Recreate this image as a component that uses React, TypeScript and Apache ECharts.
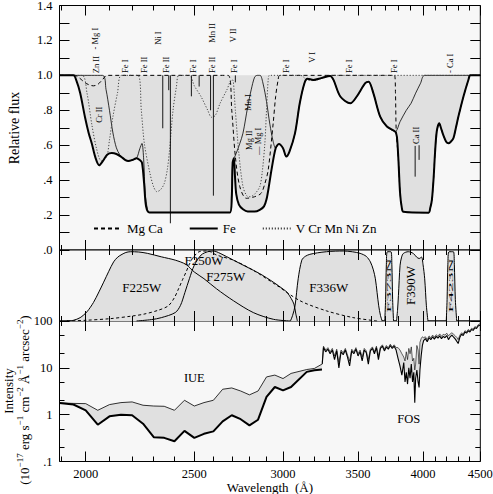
import React, { useEffect, useRef } from "react";
import * as echarts from "echarts";

const SERIF = "'Liberation Serif', 'DejaVu Serif', 'Times New Roman', serif";
const BG = "#f7f7f7";
const FILL = "#e0e0e0";

// ---------- wavelength axis ----------
const WL_MIN = 1895;
const WL_MAX = 4500;
const xMajorTicks = [2000, 2500, 3000, 3500, 4000, 4500];
const xMinorTicks = [1900, 2100, 2200, 2300, 2400, 2600, 2700, 2800, 2900, 3100, 3200, 3300, 3400, 3600, 3700, 3800, 3900, 4100, 4200, 4300, 4400];

// ---------- top panel: relative flux ----------
const continuum = 1.0;
const totalWl = [1895, 1950, 1962, 1977, 1997, 2012, 2025, 2040, 2056, 2072, 2090, 2110, 2130, 2150, 2170, 2183, 2200, 2220, 2235, 2245, 2255, 2264, 2280, 2690, 2700, 2705, 2712, 2718, 2725, 2740, 2763, 2790, 2830, 2860, 2885, 2900, 2915, 2930, 2955, 2975, 3000, 3020, 3040, 3075, 3105, 3135, 3155, 3193, 3245, 3305, 3328, 3375, 3445, 3491, 3552, 3577, 3612, 3663, 3714, 3778, 3791, 3803, 3816, 3830, 3842, 4046, 4060, 4074, 4089, 4100, 4115, 4136, 4150, 4170, 4195, 4215, 4235, 4258, 4280, 4302, 4347, 4393, 4408, 4500];
const totalFlux = [1, 1, 0.97, 0.9, 0.76, 0.67, 0.61, 0.53, 0.485, 0.51, 0.545, 0.555, 0.55, 0.535, 0.515, 0.51, 0.515, 0.525, 0.515, 0.5, 0.38, 0.25, 0.215, 0.215, 0.3, 0.5, 0.525, 0.42, 0.32, 0.26, 0.233, 0.22, 0.22, 0.23, 0.25, 0.29, 0.37, 0.46, 0.583, 0.607, 0.583, 0.535, 0.563, 0.669, 0.84, 0.955, 0.98, 0.974, 0.984, 0.997, 0.974, 0.879, 0.84, 0.879, 0.955, 0.964, 0.898, 0.764, 0.707, 0.678, 0.649, 0.516, 0.325, 0.24, 0.219, 0.214, 0.24, 0.287, 0.42, 0.554, 0.68, 0.726, 0.7, 0.659, 0.62, 0.611, 0.62, 0.64, 0.7, 0.764, 0.879, 0.978, 1, 1];

const feWl = [1895, 2070, 2085, 2100, 2115, 2130, 2145, 2160, 2183, 2200, 2220, 2235, 2245, 2253, 2260, 2271, 2280, 2690, 2700, 2705, 2715, 2725, 2745, 2763, 2790, 2810, 2830, 2845, 2862, 2880, 2900, 2920, 2940, 2955, 2975, 3000, 3020, 3040, 3075, 3105, 3135, 3155, 3193, 3245, 3305, 3328, 3375, 3445, 3491, 3552, 3577, 3612, 3663, 3714, 3778, 3816, 3865, 3903, 3940, 3980, 4013, 4500];
const feFlux = [1, 1, 0.92, 0.8, 0.67, 0.585, 0.545, 0.525, 0.51, 0.515, 0.525, 0.58, 0.61, 0.516, 0.325, 0.23, 0.215, 0.215, 0.3, 0.5, 0.53, 0.554, 0.61, 0.669, 0.82, 0.917, 0.99, 1, 1, 0.95, 0.85, 0.72, 0.62, 0.583, 0.607, 0.583, 0.535, 0.563, 0.669, 0.84, 0.955, 0.98, 0.974, 0.984, 0.997, 0.974, 0.879, 0.84, 0.879, 0.955, 0.964, 0.898, 0.764, 0.707, 0.678, 0.735, 0.8, 0.84, 0.898, 0.955, 1, 1];

const mgCaWl = [1895, 1955, 1975, 1995, 2015, 2032, 2050, 2070, 2089, 2680, 2700, 2720, 2745, 2782, 2830, 2868, 2890, 2910, 2940, 2955, 2970, 2980, 3772, 3780, 3786, 3803, 3816, 3830, 3842, 4046, 4060, 4074, 4089, 4100, 4115, 4136, 4150, 4170, 4195, 4215, 4235, 4258, 4280, 4302, 4347, 4393, 4408, 4500];
const mgCaFlux = [1, 1, 0.984, 0.96, 0.945, 0.94, 0.948, 0.975, 1, 1, 0.8, 0.535, 0.363, 0.296, 0.305, 0.325, 0.38, 0.458, 0.726, 0.88, 0.974, 1, 1, 0.9, 0.68, 0.516, 0.325, 0.24, 0.219, 0.214, 0.24, 0.287, 0.42, 0.554, 0.68, 0.726, 0.7, 0.659, 0.62, 0.611, 0.62, 0.64, 0.7, 0.764, 0.879, 0.978, 1, 1];

const otherWl = [1895, 1985, 2005, 2025, 2045, 2065, 2088, 2100, 2115, 2135, 2152, 2226, 2242, 2256, 2282, 2300, 2315, 2332, 2350, 2365, 2376, 2393, 2410, 2422, 2475, 2500, 2535, 2570, 2590, 2610, 2636, 2673, 2700, 2708, 2720, 2740, 2763, 2785, 2805, 2830, 2860, 2875, 2890, 2900, 2910, 2918, 3110, 3150, 3190, 3240, 3290, 4500];
const otherFlux = [1, 1, 0.9, 0.72, 0.58, 0.51, 0.535, 0.63, 0.764, 0.9, 1, 1, 0.8, 0.61, 0.44, 0.36, 0.334, 0.345, 0.38, 0.46, 0.573, 0.8, 0.936, 1, 1, 0.94, 0.878, 0.8, 0.76, 0.77, 0.84, 0.917, 0.974, 0.97, 0.8, 0.55, 0.363, 0.31, 0.305, 0.32, 0.363, 0.45, 0.61, 0.8, 0.974, 1, 1, 0.975, 0.97, 0.98, 1, 1];

const markerWl = [2343, 2372, 2380, 2485, 2525, 2585, 2600, 2720, 3936, 3968];
const markerTop = [1, 1, 1, 1, 1, 1, 1, 1, 0.596, 0.6];
const markerBottom = [0.697, 0.915, 0.153, 0.88, 0.936, 0.8, 0.311, 0.96, 0.42, 0.516];

const lineIdText = ["Zn II", "- Mg I", "Fe I", "Fe II", "Ni I", "Fe II", "Fe I", "Fe II", "Mn II", "V II", "Fe I", "Fe I", "V I", "Fe I", "Fe I", "- Ca I", "Cr II", "Mn I", "Mg II", "— Mg I", "Ca II"];
const lineIdWl = [2043, 2039, 2169, 2255, 2321, 2359, 2493, 2593, 2593, 2707, 2713, 3020, 3186, 3437, 3770, 4230, 2057, 2790, 2795, 2852, 3943];
const lineIdLevel = [1.012, 1.148, 1.014, 1.014, 1.175, 1.014, 1.014, 1.014, 1.186, 1.19, 1.014, 1.014, 1.072, 1.014, 1.014, 1.014, 0.728, 0.797, 0.573, 0.544, 0.607];

const fluxTickLabels = ["1.4", "1.2", "1.0", ".8", ".6", ".4", ".2", ".0"];

// ---------- middle panel: filter throughputs ----------
const f225Wl = [1924, 1950, 1977, 2005, 2032, 2055, 2075, 2097, 2118, 2136, 2155, 2172, 2192, 2230, 2270, 2336, 2404, 2458, 2500, 2550, 2617, 2709, 2822, 2941, 3046];
const f225T = [0, 0.01, 0.047, 0.13, 0.261, 0.41, 0.547, 0.7, 0.833, 0.9, 0.939, 0.965, 0.976, 0.972, 0.953, 0.904, 0.857, 0.796, 0.69, 0.596, 0.453, 0.286, 0.119, 0.024, 0];
const f250Wl = [1924, 2000, 2103, 2200, 2253, 2320, 2370, 2400, 2420, 2440, 2458, 2475, 2490, 2525, 2570, 2617, 2709, 2822, 2963, 3106, 3280, 3465, 3640];
const f250T = [0, 0.01, 0.033, 0.07, 0.096, 0.15, 0.214, 0.33, 0.452, 0.58, 0.69, 0.8, 0.88, 0.976, 0.986, 0.929, 0.857, 0.714, 0.5, 0.286, 0.143, 0.048, 0];
const f275Wl = [2220, 2290, 2336, 2404, 2430, 2452, 2475, 2500, 2535, 2570, 2600, 2636, 2709, 2784, 2860, 2941, 3000, 3025, 3050, 3068, 3080, 3090];
const f275T = [0, 0.02, 0.047, 0.119, 0.22, 0.4, 0.596, 0.786, 0.929, 0.976, 0.986, 0.953, 0.857, 0.762, 0.667, 0.547, 0.45, 0.404, 0.32, 0.238, 0.1, 0];
const f336Wl = [3046, 3060, 3075, 3095, 3118, 3140, 3170, 3220, 3280, 3340, 3395, 3460, 3515, 3560, 3590, 3612, 3627, 3640, 3652, 3665, 3678];
const f336T = [0, 0.08, 0.214, 0.595, 0.857, 0.91, 0.939, 0.96, 0.976, 0.984, 0.986, 0.975, 0.953, 0.91, 0.833, 0.72, 0.595, 0.4, 0.214, 0.08, 0];
const f373Wl = [3698, 3704, 3710, 3718, 3745, 3752, 3758, 3765];
const f373T = [0, 0.3, 0.8, 0.976, 0.976, 0.8, 0.3, 0];
const f390Wl = [3788, 3796, 3803, 3816, 3828, 3842, 3881, 3921, 3948, 3969, 3988, 4000, 4014, 4028, 4041];
const f390T = [0, 0.15, 0.357, 0.786, 0.9, 0.952, 0.976, 0.952, 0.9, 0.88, 0.9, 0.8, 0.595, 0.214, 0];
const f423Wl = [4196, 4203, 4210, 4220, 4258, 4266, 4275, 4287];
const f423T = [0, 0.3, 0.8, 0.976, 0.976, 0.8, 0.3, 0];

const filterLabelText = ["F225W", "F250W", "F275W", "F336W", "F373N", "F390W", "F423N"];
const filterLabelWl = [2244, 2550, 2667, 3295, 3727, 3902, 4238];
const filterLabelLevel = [0.47, 0.85, 0.62, 0.47, 0.5, 0.5, 0.5];
const filterLabelVertical = [false, false, false, false, true, true, true];
const filterLabelNarrow = [false, false, false, false, true, false, true];

// ---------- bottom panel: intensity ----------
const iueWl = [1895, 1950, 2000, 2050, 2100, 2150, 2200, 2250, 2300, 2350, 2400, 2450, 2500, 2550, 2600, 2650, 2700, 2750, 2800, 2850, 2900, 2950, 3000, 3050, 3150, 3200, 3250];
const iueUpper = [1.78, 1.74, 1.72, 1.24, 1.64, 1.81, 1.87, 1.59, 1.53, 1.51, 1.24, 2.03, 1.53, 1.81, 2.03, 3.49, 3.72, 3.2, 2.65, 3.2, 6.4, 7.0, 5.9, 7.6, 9.2, 9.7, 12];
const iueLower = [1.78, 1.65, 1.24, 0.61, 0.92, 1.0, 0.97, 0.64, 0.33, 0.32, 0.27, 0.45, 0.32, 0.39, 0.44, 0.72, 0.97, 0.8, 0.59, 0.78, 2.4, 3.9, 3.3, 3.9, 8.2, 8.9, 9.2];

const fosWl = [3252, 3260, 3275, 3290, 3305, 3320, 3335, 3350, 3365, 3380, 3395, 3410, 3425, 3440, 3455, 3470, 3485, 3500, 3515, 3530, 3545, 3560, 3575, 3590, 3605, 3620, 3635, 3650, 3665, 3680, 3695, 3710, 3725, 3740, 3755, 3770, 3785, 3800, 3815, 3830, 3845, 3855, 3865, 3875, 3885, 3895, 3905, 3915, 3925, 3933, 3940, 3950, 3960, 3968, 3975, 3985, 3995, 4005, 4020, 4035, 4050, 4065, 4080, 4095, 4110, 4125, 4140, 4155, 4170, 4185, 4200, 4215, 4230, 4245, 4260, 4275, 4290, 4300, 4315, 4330, 4345, 4360, 4375, 4390, 4405, 4420, 4435, 4450, 4465, 4480, 4500];
const fosLower = [12, 27, 22, 25, 20, 24, 15, 23, 10, 22, 19, 24, 17, 11, 23, 20, 25, 18, 22, 14, 24, 21, 12, 23, 26, 20, 27, 15, 26, 29, 23, 28, 25, 30, 26, 29, 24, 16, 11, 7, 13, 5, 8, 4.5, 10, 6, 12, 5, 8, 1.8, 6, 9, 5, 3.8, 9, 18, 30, 38, 42, 36, 44, 40, 46, 41, 47, 43, 48, 42, 47, 44, 49, 40, 46, 50, 45, 41, 36, 33, 45, 52, 49, 58, 55, 62, 58, 66, 63, 72, 69, 78, 82];
const fosUpper = [13, 29, 24, 27, 22, 26, 18, 25, 13, 24, 21, 26, 19, 14, 25, 22, 27, 20, 24, 17, 26, 23, 15, 25, 28, 22, 29, 18, 28, 31, 25, 30, 27, 32, 28, 31, 27, 27, 24, 20, 17, 14, 22, 15, 26, 20, 28, 14, 16, 9, 12, 30, 24, 12, 35, 42, 46, 44, 46, 40, 48, 44, 50, 45, 51, 47, 53, 47, 52, 50, 55, 48, 53, 56, 52, 48, 44, 40, 50, 56, 53, 62, 59, 66, 62, 70, 67, 76, 73, 83, 88];

const intensityMajor = [0.1, 1, 10, 100];
const intensityMajorLabels = [".1", "1", "10", "100"];
const intensityMinor = [0.2, 0.5, 2, 5, 20, 50];

const panelText = ["IUE", "FOS"];
const panelTextWl = [2500, 3885];
const panelTextLevel = [6.1, 0.82];

// ---------- helpers ----------
const L = Math.log10;
const SM = 0.3;
const xy = (wl: number[], v: number[], fy = (a: number) => a) => wl.map((w, i) => [L(w), fy(v[i])]);

function buildOption(): any {
  const left = 59.5;
  const width = 420.8;
  const gridCommon = { show: true, borderColor: "#000", borderWidth: 1, backgroundColor: BG, containLabel: false, outerBoundsMode: "none" };
  const grids = [
    { ...gridCommon, left, width, top: 5.5, height: 244.5 },
    { ...gridCommon, left, width, top: 250, height: 71 },
    { ...gridCommon, left, width, top: 321, height: 140.5 },
  ];

  const tick = (len: number, vals: number[]) => ({ show: true, inside: true, length: len, lineStyle: { color: "#000", width: 1 }, customValues: vals.map(L) });
  const xAxes: any[] = [];
  for (let g = 0; g < 3; g++) {
    const base = { type: "value", gridIndex: g, min: L(WL_MIN), max: L(WL_MAX), splitLine: { show: false }, axisLine: { show: false, onZero: false }, z: 10 };
    xAxes.push({
      ...base,
      position: "bottom",
      axisTick: tick(10, xMajorTicks),
      axisLabel: g === 2
        ? { show: true, customValues: xMajorTicks.map(L), formatter: (v: number) => String(Math.round(Math.pow(10, v))), color: "#000", fontFamily: SERIF, fontSize: 12.5, margin: 6, showMaxLabel: true, showMinLabel: true }
        : { show: false },
      name: g === 2 ? "Wavelength\u00a0 (Å)" : "",
      nameLocation: "middle",
      nameGap: 19,
      nameTextStyle: { color: "#000", fontFamily: SERIF, fontSize: 13 },
    });
    xAxes.push({ ...base, position: "bottom", axisTick: tick(5, xMinorTicks), axisLabel: { show: false } });
    xAxes.push({ ...base, position: "top", axisTick: tick(10, xMajorTicks), axisLabel: { show: false } });
    xAxes.push({ ...base, position: "top", axisTick: tick(5, xMinorTicks), axisLabel: { show: false } });
  }

  const fluxLabel = (v: number) => {
    const k = Math.round(v * 10);
    if (k % 2 !== 0) return "";
    return fluxTickLabels[(14 - k) / 2] ?? "";
  };
  const yTop = (pos: string, labels: boolean) => ({
    type: "value", gridIndex: 0, position: pos, min: 0, max: 1.4, interval: 0.1, z: 10,
    splitLine: { show: false }, axisLine: { show: false, onZero: false },
    axisTick: { show: true, inside: true, length: 10, lineStyle: { color: "#000", width: 1 } },
    axisLabel: labels ? { show: true, formatter: fluxLabel, color: "#000", fontFamily: SERIF, fontSize: 12.5, margin: 7 } : { show: false },
  });
  const yInt = (pos: string, vals: number[], len: number, labels: boolean) => ({
    type: "value", gridIndex: 2, position: pos, min: -1, max: 2, z: 10,
    splitLine: { show: false }, axisLine: { show: false, onZero: false },
    axisTick: { show: true, inside: true, length: len, customValues: vals.map(L), lineStyle: { color: "#000", width: 1 } },
    axisLabel: labels
      ? { show: true, customValues: vals.map(L), formatter: (v: number) => intensityMajorLabels[Math.round(v) + 1] ?? "", color: "#000", fontFamily: SERIF, fontSize: 12.5, margin: 7 }
      : { show: false },
  });
  const yAxes = [
    yTop("left", true),
    yTop("right", false),
    { type: "value", gridIndex: 1, min: 0, max: 1, show: false, axisLine: { onZero: false } },
    yInt("left", intensityMajor, 10, true),
    yInt("left", intensityMinor, 5, false),
    yInt("right", intensityMajor, 10, false),
    yInt("right", intensityMinor, 5, false),
  ];

  const line = (extra: any) => ({ type: "line", symbol: "none", showSymbol: false, silent: true, ...extra });

  // ---------- top panel series ----------
  const topSeries: any[] = [
    line({ xAxisIndex: 0, yAxisIndex: 0, data: xy(totalWl, totalFlux), smooth: SM, lineStyle: { width: 0, opacity: 0 }, areaStyle: { color: FILL, opacity: 1, origin: continuum }, z: 1 }),
    line({ name: "Mg Ca", xAxisIndex: 0, yAxisIndex: 0, data: xy(mgCaWl, mgCaFlux), smooth: SM, lineStyle: { color: "#000", width: 1, type: [4, 3] }, itemStyle: { color: "#000" }, z: 3 }),
    line({ name: "Fe", xAxisIndex: 0, yAxisIndex: 0, data: xy(feWl, feFlux), smooth: SM, lineStyle: { color: "#000", width: 0.8 }, itemStyle: { color: "#000" }, z: 3 }),
    line({ name: "V Cr Mn Ni Zn", xAxisIndex: 0, yAxisIndex: 0, data: xy(otherWl, otherFlux), smooth: SM, lineStyle: { color: "#444", width: 1, type: [1.2, 1.8] }, itemStyle: { color: "#444" }, z: 3 }),
    line({ xAxisIndex: 0, yAxisIndex: 0, data: xy(totalWl, totalFlux), smooth: SM, lineStyle: { color: "#000", width: 2 }, z: 4 }),
    {
      type: "custom", xAxisIndex: 0, yAxisIndex: 0, silent: true, z: 5,
      data: markerWl.map((w, i) => [L(w), markerTop[i], markerBottom[i]]),
      encode: { x: 0, y: [1, 2] },
      renderItem: (_p: any, api: any) => {
        const a = api.coord([api.value(0), api.value(1)]);
        const b = api.coord([api.value(0), api.value(2)]);
        return { type: "line", shape: { x1: a[0], y1: a[1], x2: b[0], y2: b[1] }, style: { stroke: "#000", lineWidth: 0.9 } };
      },
    },
    {
      type: "custom", xAxisIndex: 0, yAxisIndex: 0, silent: true, z: 6,
      data: lineIdWl.map((w, i) => [L(w), lineIdLevel[i]]),
      renderItem: (p: any, api: any) => {
        const c = api.coord([api.value(0), api.value(1)]);
        return {
          type: "text", x: c[0], y: c[1], rotation: Math.PI / 2,
          style: { text: lineIdText[p.dataIndex], fontSize: 8.5, fontFamily: SERIF, fill: "#000", align: "left", verticalAlign: "middle" },
        };
      },
    },
  ];

  // ---------- middle panel series ----------
  const filled: [number[], number[]][] = [[f225Wl, f225T], [f275Wl, f275T], [f336Wl, f336T], [f373Wl, f373T], [f390Wl, f390T], [f423Wl, f423T]];
  const midSeries: any[] = [];
  filled.forEach(([wl, t]) => {
    midSeries.push(line({ xAxisIndex: 4, yAxisIndex: 2, data: xy(wl, t), smooth: SM, lineStyle: { width: 0, opacity: 0 }, areaStyle: { color: FILL, opacity: 1 }, z: 2 }));
  });
  filled.forEach(([wl, t]) => {
    midSeries.push(line({ xAxisIndex: 4, yAxisIndex: 2, data: xy(wl, t), smooth: SM, lineStyle: { color: "#000", width: 1 }, z: 3 }));
  });
  midSeries.push(line({ xAxisIndex: 4, yAxisIndex: 2, data: xy(f250Wl, f250T), smooth: SM, lineStyle: { color: "#000", width: 1, type: [3, 2.5] }, z: 3 }));
  midSeries.push({
    type: "custom", xAxisIndex: 4, yAxisIndex: 2, silent: true, z: 6,
    data: filterLabelWl.map((w, i) => [L(w), filterLabelLevel[i]]),
    renderItem: (p: any, api: any) => {
      const i = p.dataIndex;
      const c = api.coord([api.value(0), api.value(1)]);
      const vert = filterLabelVertical[i];
      const narrow = filterLabelNarrow[i];
      return {
        type: "text", x: c[0], y: c[1], rotation: vert ? Math.PI / 2 : 0,
        scaleX: narrow ? 1.5 : 1, scaleY: narrow ? 0.5 : 1,
        style: { text: filterLabelText[i], fontSize: 13, fontFamily: SERIF, fill: "#000", align: "center", verticalAlign: "middle" },
      };
    },
  });

  // ---------- bottom panel series ----------
  const band = (wl: number[], lo: number[], hi: number[]) => ({
    type: "custom", xAxisIndex: 8, yAxisIndex: 3, silent: true, z: 1,
    data: [[L(wl[0]), L(lo[0])]],
    renderItem: (_p: any, api: any) => {
      const pts = wl.map((w, i) => api.coord([L(w), L(hi[i])]));
      for (let i = wl.length - 1; i >= 0; i--) pts.push(api.coord([L(wl[i]), L(lo[i])]));
      return { type: "polygon", shape: { points: pts }, style: { fill: FILL } };
    },
  });
  const botSeries: any[] = [
    band(iueWl, iueLower, iueUpper),
    band(fosWl, fosLower, fosUpper),
    line({ xAxisIndex: 8, yAxisIndex: 3, data: xy(iueWl, iueUpper, L), lineStyle: { color: "#000", width: 0.8 }, z: 3 }),
    line({ xAxisIndex: 8, yAxisIndex: 3, data: xy(iueWl, iueLower, L), lineStyle: { color: "#000", width: 2 }, z: 4 }),
    line({ xAxisIndex: 8, yAxisIndex: 3, data: xy(fosWl, fosUpper, L), lineStyle: { color: "#000", width: 0.6 }, z: 3 }),
    line({ xAxisIndex: 8, yAxisIndex: 3, data: xy(fosWl, fosLower, L), lineStyle: { color: "#000", width: 1.1 }, z: 4 }),
    {
      type: "custom", xAxisIndex: 8, yAxisIndex: 3, silent: true, z: 6,
      data: panelTextWl.map((w, i) => [L(w), L(panelTextLevel[i])]),
      renderItem: (p: any, api: any) => {
        const c = api.coord([api.value(0), api.value(1)]);
        return { type: "text", x: c[0], y: c[1], style: { text: panelText[p.dataIndex], fontSize: 12.5, fontFamily: SERIF, fill: "#000", align: "center", verticalAlign: "middle" } };
      },
    },
  ];

  const units = "{n|(10}{s|−17}{n| erg s}{s|−1}{n| cm}{s|−2}{n| Å}{s|−1}{n| arcsec}{s|−2}{n|)}";

  return {
    animation: false,
    backgroundColor: "#fff",
    textStyle: { fontFamily: SERIF, color: "#000" },
    grid: grids,
    xAxis: xAxes,
    yAxis: yAxes,
    legend: {
      data: ["Mg Ca", "Fe", "V Cr Mn Ni Zn"],
      left: 93, top: 222, padding: 0,
      itemWidth: 28, itemHeight: 12, itemGap: 26,
      selectedMode: false,
      itemStyle: { opacity: 0, color: "rgba(0,0,0,0)", borderColor: "rgba(0,0,0,0)", borderWidth: 0 },
      textStyle: { fontFamily: SERIF, fontSize: 13, color: "#000" },
    },
    graphic: [
      { type: "text", x: 14, y: 128, rotation: Math.PI / 2, style: { text: "Relative flux", fontSize: 14, fontFamily: SERIF, fill: "#000", align: "center", verticalAlign: "middle" } },
      { type: "text", x: 8, y: 391, rotation: Math.PI / 2, style: { text: "Intensity", fontSize: 13, fontFamily: SERIF, fill: "#000", align: "center", verticalAlign: "middle" } },
      {
        type: "text", x: 24, y: 400, rotation: Math.PI / 2,
        style: {
          text: units, fill: "#000", align: "center", verticalAlign: "middle", fontFamily: SERIF, fontSize: 13,
          rich: {
            n: { fontSize: 13, fontFamily: SERIF, lineHeight: 17, fill: "#000" },
            s: { fontSize: 9, fontFamily: SERIF, lineHeight: 9, verticalAlign: "top", fill: "#000" },
          },
        },
      },
    ],
    series: [...topSeries, ...midSeries, ...botSeries],
  };
}

export default function App() {
  const ref = useRef<HTMLDivElement>(null);
  useEffect(() => {
    document.body.style.margin = "0";
    const chart = echarts.init(ref.current as HTMLDivElement, null, { renderer: "svg" });
    chart.setOption(buildOption());
    return () => chart.dispose();
  }, []);
  return <div ref={ref} style={{ width: 493, height: 494 }} />;
}
